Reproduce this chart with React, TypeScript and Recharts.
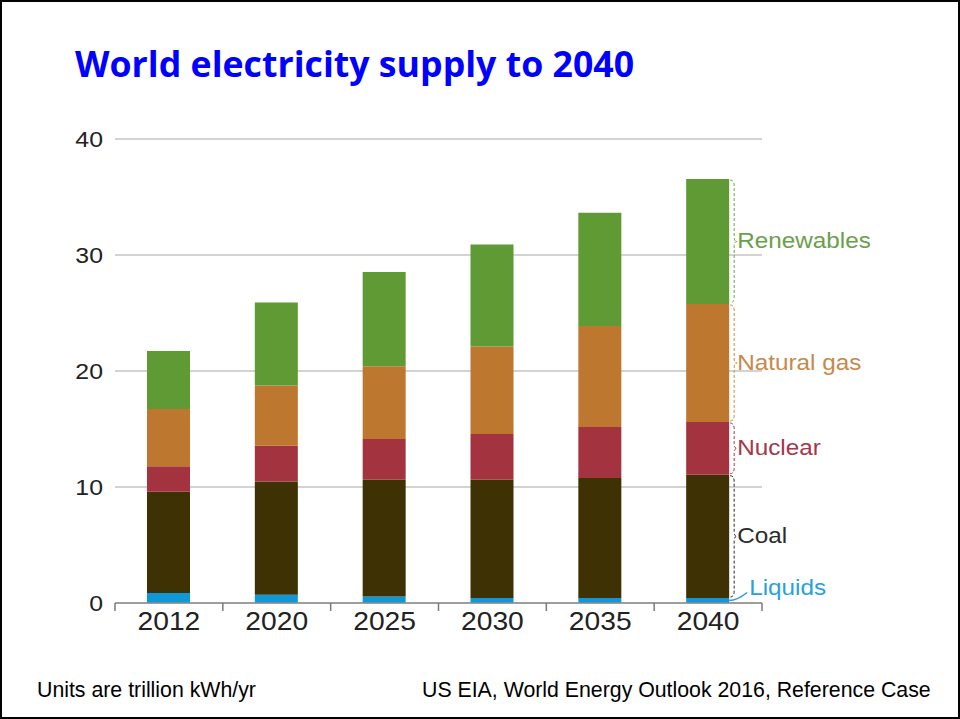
import { BarChart, Bar, XAxis, YAxis, CartesianGrid, LabelList } from 'recharts';

const years = ['2012', '2020', '2025', '2030', '2035', '2040'];
const liquids = [0.86, 0.72, 0.57, 0.43, 0.43, 0.43];
const coal = [8.74, 9.76, 10.06, 10.2, 10.35, 10.63];
const nuclear = [2.18, 3.08, 3.51, 3.94, 4.39, 4.54];
const naturalGas = [4.94, 5.2, 6.26, 7.55, 8.71, 10.18];
const renewables = [5.0, 7.14, 8.13, 8.78, 9.77, 10.77];
const yTicks = [0, 10, 20, 30, 40];

const data = years.map((year, i) => ({
  year,
  liquids: liquids[i],
  coal: coal[i],
  nuclear: nuclear[i],
  naturalGas: naturalGas[i],
  renewables: renewables[i],
}));

const series = [
  { key: 'liquids', name: 'Liquids', fill: '#0f97d8', text: '#2a9fe0' },
  { key: 'coal', name: 'Coal', fill: '#3e3104', text: '#2b2b2b' },
  { key: 'nuclear', name: 'Nuclear', fill: '#a3343f', text: '#a5374a' },
  { key: 'naturalGas', name: 'Natural gas', fill: '#be772f', text: '#c8894c' },
  { key: 'renewables', name: 'Renewables', fill: '#5f9a35', text: '#6aa04a' },
];

const PLOT_LEFT = 115;
const PLOT_RIGHT = 762;
const BAND = (PLOT_RIGHT - PLOT_LEFT) / years.length;
const FONT = '"Liberation Sans", Arial, sans-serif';
const STRETCH = 1.13;

function XTick(props: any) {
  const { x, y, payload, index } = props;
  const last = index === years.length - 1;
  return (
    <g>
      <line x1={x - BAND / 2} x2={x - BAND / 2} y1={y} y2={y + 8} stroke="#7a7a7a" strokeWidth={1.5} />
      {last && <line x1={x + BAND / 2} x2={x + BAND / 2} y1={y} y2={y + 8} stroke="#7a7a7a" strokeWidth={1.5} />}
      <text
        transform={`translate(${x},${y + 27}) scale(${STRETCH},1)`}
        textAnchor="middle"
        fontFamily={FONT}
        fontSize={25}
        fill="#222"
      >
        {payload.value}
      </text>
    </g>
  );
}

function YTick(props: any) {
  const { x, y, payload } = props;
  return (
    <text
      transform={`translate(${x},${y + 8}) scale(${STRETCH},1)`}
      textAnchor="end"
      fontFamily={FONT}
      fontSize={22}
      fill="#222"
    >
      {payload.value}
    </text>
  );
}

function makeLabel(name: string, color: string, isLiquids: boolean) {
  return (props: any) => {
    const { index } = props;
    if (index !== years.length - 1) return null;
    const x = Number(props.x);
    const y = Number(props.y);
    const w = Number(props.width);
    const h = Number(props.height);
    const right = x + w;
    const mid = y + h / 2;
    if (isLiquids) {
      return (
        <g>
          <path d={`M${right},${mid} Q${right + 8},${mid} ${right + 18},${mid - 8}`} stroke={color} fill="none" strokeWidth={1.5} />
          <text
            transform={`translate(${right + 20},${mid - 6}) scale(${STRETCH},1)`}
            fontFamily={FONT}
            fontSize={21.5}
            fill={color}
          >
            {name}
          </text>
        </g>
      );
    }
    const bx = right + 1;
    const top = y + 1;
    const bot = y + h - 1;
    const d = `M${bx},${top} Q${bx + 4},${top} ${bx + 4},${top + 6} L${bx + 4},${mid - 4} Q${bx + 4},${mid} ${bx + 7},${mid} Q${bx + 4},${mid} ${bx + 4},${mid + 4} L${bx + 4},${bot - 6} Q${bx + 4},${bot} ${bx},${bot}`;
    return (
      <g>
        <path d={d} stroke={color} fill="none" strokeWidth={1} strokeDasharray="3 2" />
        <text
          transform={`translate(${right + 8},${mid + 7}) scale(${STRETCH},1)`}
          fontFamily={FONT}
          fontSize={21.5}
          fill={color}
        >
          {name}
        </text>
      </g>
    );
  };
}

export default function App() {
  return (
    <div
      style={{
        position: 'absolute',
        left: 0,
        top: 0,
        width: 960,
        height: 719,
        background: '#fff',
        boxSizing: 'border-box',
        border: '2px solid #000',
        overflow: 'hidden',
      }}
    >
      <div style={{ position: 'absolute', left: -2, top: -2 }}>
        <BarChart
          width={960}
          height={719}
          data={data}
          margin={{ top: 139, right: 960 - PLOT_RIGHT, left: PLOT_LEFT - 40, bottom: 76 }}
        >
          <CartesianGrid vertical={false} stroke="#c4c4c4" strokeWidth={1.5} />
          <XAxis
            dataKey="year"
            height={40}
            axisLine={{ stroke: '#8c8c8c', strokeWidth: 1.5 }}
            tickLine={false}
            tickSize={0}
            tickMargin={0}
            tick={<XTick />}
            interval={0}
          />
          <YAxis
            width={40}
            domain={[0, 40]}
            ticks={yTicks}
            axisLine={false}
            tickLine={false}
            tickSize={0}
            tickMargin={12}
            tick={<YTick />}
          />
          {series.map((s) => (
            <Bar key={s.key} dataKey={s.key} name={s.name} stackId="a" fill={s.fill} barSize={43} isAnimationActive={false}>
              <LabelList dataKey={s.key} content={makeLabel(s.name, s.text, s.key === 'liquids')} />
            </Bar>
          ))}
        </BarChart>
      </div>
      <svg width={960} height={719} style={{ position: 'absolute', left: -2, top: -2, pointerEvents: 'none' }}>
        <text x={75} y={77} fontFamily='"Open Sans", sans-serif' fontWeight="bold" fontSize={35.7} fill="#0000ff">
          World electricity supply to 2040
        </text>
        <text x={37} y={697} fontFamily={FONT} fontSize={21.3} fill="#000">
          Units are trillion kWh/yr
        </text>
        <text x={422} y={697} fontFamily={FONT} fontSize={21.3} fill="#000">
          US EIA, World Energy Outlook 2016, Reference Case
        </text>
      </svg>
    </div>
  );
}
